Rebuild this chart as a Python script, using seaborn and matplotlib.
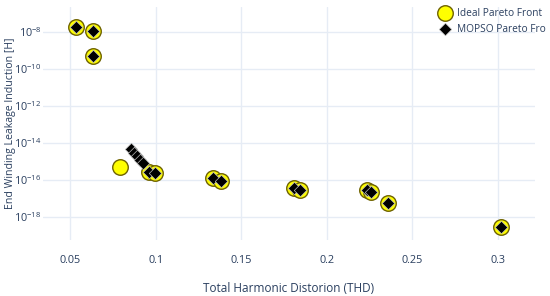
import numpy as np
import pandas as pd
import matplotlib
matplotlib.use("Agg")
import matplotlib.pyplot as plt
from matplotlib.ticker import FixedLocator, LogFormatterMathtext, NullLocator
import seaborn as sns

# Ideal Pareto front (yellow circles)
ideal_thd = [0.0533, 0.0636, 0.0636, 0.0792, 0.0963, 0.0997, 0.1337, 0.1382,
             0.1810, 0.1843, 0.2233, 0.2256, 0.2359, 0.3018]
ideal_ind = [1.95e-8, 1.12e-8, 5.2e-10, 5.0e-16, 2.7e-16, 2.2e-16, 1.17e-16, 8.7e-17,
             3.4e-17, 2.75e-17, 2.75e-17, 2.05e-17, 5.2e-18, 2.6e-19]

# MOPSO Pareto front (black diamonds)
mopso_thd = [0.0533, 0.0636, 0.0636, 0.0856, 0.0874, 0.0891, 0.0909, 0.0926,
             0.0963, 0.0997, 0.1337, 0.1382, 0.1810, 0.1843, 0.2233, 0.2256,
             0.2359, 0.3018]
mopso_ind = [1.95e-8, 1.12e-8, 5.2e-10, 4.6e-15, 2.95e-15, 1.9e-15, 1.23e-15, 7.9e-16,
             2.7e-16, 2.2e-16, 1.17e-16, 8.7e-17, 3.4e-17, 2.75e-17, 2.75e-17, 2.05e-17,
             5.2e-18, 2.6e-19]

x_ticks = [0.05, 0.1, 0.15, 0.2, 0.25, 0.3]
x_tick_labels = ["0.05", "0.1", "0.15", "0.2", "0.25", "0.3"]
y_ticks = [1e-18, 1e-16, 1e-14, 1e-12, 1e-10, 1e-8]
# legend labels as they appear in the (cropped) reference
legend_labels = ["Ideal Pareto Front", "MOPSO Pareto Fro"]

df_ideal = pd.DataFrame({"thd": ideal_thd, "ind": ideal_ind})
df_mopso = pd.DataFrame({"thd": mopso_thd, "ind": mopso_ind})

sns.set_style("white")
plt.rcParams['font.family'] = ['Open Sans', 'DejaVu Sans']
plt.rcParams['mathtext.fontset'] = 'dejavusans'

text_col = '#2a3f5f'
grid_col = '#e6ecf5'

fig = plt.figure(figsize=(5.5, 2.96), dpi=100)
ax = fig.add_axes([43 / 550, 1 - 240 / 296, (535 - 43) / 550, (240 - 7) / 296])

sns.scatterplot(data=df_ideal, x="thd", y="ind", ax=ax, s=125, marker='o',
                color='#ffff00', edgecolor='#6e6200', linewidth=1.0,
                label=legend_labels[0], zorder=3)
sns.scatterplot(data=df_mopso, x="thd", y="ind", ax=ax, s=40, marker='D',
                color='black', edgecolor='#bbbbbb', linewidth=0.5,
                label=legend_labels[1], zorder=4)

ax.set_yscale('log')
ax.set_xlim(0.0342, 0.3216)
ax.set_ylim(10 ** -19.27, 10 ** -6.64)

ax.xaxis.set_major_locator(FixedLocator(x_ticks))
ax.set_xticklabels(x_tick_labels)
ax.yaxis.set_major_locator(FixedLocator(y_ticks))
ax.yaxis.set_major_formatter(LogFormatterMathtext())
ax.yaxis.set_minor_locator(NullLocator())

ax.grid(True, color=grid_col, linewidth=1.0, zorder=0)
ax.set_axisbelow(True)
for sp in ax.spines.values():
    sp.set_visible(False)
ax.tick_params(axis='both', length=0, colors=text_col, labelsize=7.8)
ax.tick_params(axis='x', pad=11)
ax.tick_params(axis='y', pad=1)

ax.set_xlabel("Total Harmonic Distorion (THD)", color=text_col, fontsize=8.5, labelpad=11)
ax.set_ylabel("End Winding Leakage Induction [H]", color=text_col, fontsize=7.6)
ax.yaxis.set_label_coords(-27 / 492, 0.5)

handles, labels = ax.get_legend_handles_labels()
ax.legend_.remove()
fig.legend(handles, labels, loc='upper left', bbox_to_anchor=(434 / 550, 1 - 4 / 296),
           frameon=False, fontsize=7.3, labelcolor=text_col, handletextpad=0.5,
           handlelength=1.4, borderaxespad=0, labelspacing=0.45, markerscale=1.0)

fig.savefig("out.png", dpi=100)
